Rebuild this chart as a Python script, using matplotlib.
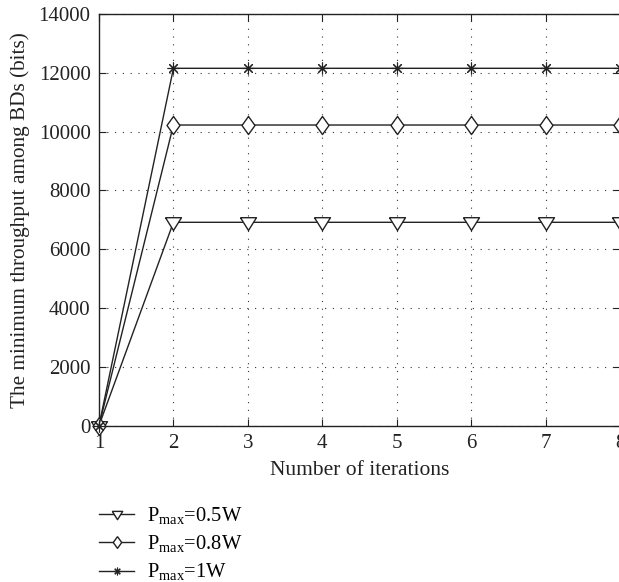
import matplotlib
matplotlib.use("Agg")
import matplotlib.pyplot as plt

iterations = [1, 2, 3, 4, 5, 6, 7, 8]
p05 = [0, 6915, 6915, 6915, 6915, 6915, 6915, 6915]
p08 = [0, 10224, 10224, 10224, 10224, 10224, 10224, 10224]
p1 = [0, 12153, 12153, 12153, 12153, 12153, 12153, 12153]
labels = [r'P$_{\mathrm{max}}$=0.5W', r'P$_{\mathrm{max}}$=0.8W', r'P$_{\mathrm{max}}$=1W']
yticks = [0, 2000, 4000, 6000, 8000, 10000, 12000, 14000]

plt.rcParams['font.family'] = ['Liberation Serif', 'DejaVu Serif']
plt.rcParams['mathtext.fontset'] = 'custom'
plt.rcParams['mathtext.rm'] = 'Liberation Serif'

fig = plt.figure(figsize=(6.19, 5.82), dpi=100)
ax = fig.add_axes([99/619, 1-425.6/582, (620-99)/619, (425.6-14)/582])

col = '#222222'
tri = [(-0.5, 0.3), (0.5, 0.3), (0, -0.5), (-0.5, 0.3)]
dia = [(0, 0.5), (0.36, 0), (0, -0.5), (-0.36, 0), (0, 0.5)]
ax.plot(iterations, p05, color=col, lw=1.0, marker=tri, ms=11.5, mfc='white', mec=col, mew=1.0, label=labels[0], clip_on=False, zorder=3)
ax.plot(iterations, p08, color=col, lw=1.0, marker=dia, ms=13, mfc='white', mec=col, mew=1.0, label=labels[1], clip_on=False, zorder=3)
ax.plot(iterations, p1, color=col, lw=1.0, marker=(8, 2, 0), ms=8.5, mfc='white', mec=col, mew=0.8, label=labels[2], clip_on=False, zorder=3)

ax.set_xlim(1, 8)
ax.set_ylim(0, 14000)
ax.set_xticks(iterations)
ax.set_yticks(yticks)
ax.tick_params(direction='in', top=True, right=True, labelsize=15, length=5, width=0.8, colors='#222222', pad=6)
ax.grid(True, linestyle=(0, (1, 6)), color='#333333', linewidth=0.8)
for s in ax.spines.values():
    s.set_color('#222222')
    s.set_linewidth(1.0)

ax.set_xlabel('Number of iterations', fontsize=15.5, color='#222222', labelpad=6)
ax.set_ylabel('The minimum throughput among BDs (bits)', fontsize=15.3, color='#222222', labelpad=6)

fig.legend(loc='upper left', bbox_to_anchor=(99/619, 1-505/582), frameon=False,
           fontsize=14.8, handlelength=1.72, labelspacing=0.33, handletextpad=0.62,
           borderpad=0, borderaxespad=0, markerscale=0.65)

fig.savefig('out.png', dpi=100)
